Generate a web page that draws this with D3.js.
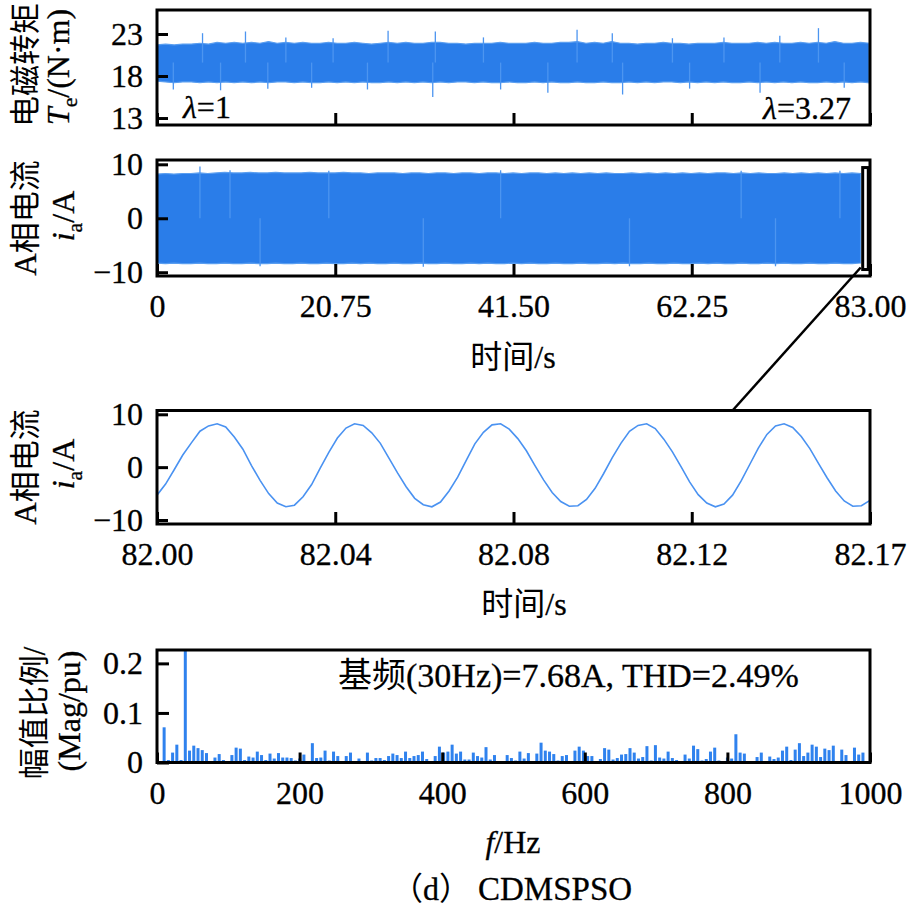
<!DOCTYPE html>
<html>
<head>
<meta charset="utf-8">
<script src="https://cdn.jsdelivr.net/npm/d3@7"></script>
<style>
  body { margin: 0; background: #fff; }
  svg text { font-family: "Liberation Serif", "Times New Roman", serif; fill: #000; }
  svg .lat { font-family: "Liberation Serif", "Times New Roman", serif; stroke: #000; stroke-width: 0.3px; }
  svg .cjk { font-family: "Noto Sans CJK SC", sans-serif; }
  svg .tick text { font-family: "Liberation Serif", "Times New Roman", serif; stroke: #000; stroke-width: 0.3px; }
</style>
</head>
<body>
<div id="chart"></div>
<script>

// Figure (d) CDMSPSO: torque, phase current, zoomed current and its spectrum

const width = 911;
const height = 911;
const plotL = 157, plotR = 870;
const blue = "#2a7de9";

// Torque Te band (envelope, one value per second)
const torqueEnd = 82.9;
const torqueUpper = [
  21.7, 21.8, 21.7, 21.8, 21.8, 21.9, 21.8, 22.0, 21.9, 22.0,
  21.9, 22.0, 21.9, 22.1, 21.9, 22.0, 21.9, 22.0, 21.9, 21.9,
  22.0, 21.9, 21.9, 22.0, 21.9, 21.8, 21.9, 22.0, 21.9, 22.0,
  21.9, 21.9, 22.0, 22.0, 21.9, 21.9, 21.8, 21.9, 21.9, 21.9,
  22.0, 21.9, 21.9, 21.9, 22.0, 21.9, 21.9, 22.0, 22.0, 22.1,
  21.9, 22.0, 21.9, 22.1, 21.9, 21.9, 21.8, 21.9, 21.9, 22.0,
  21.9, 21.9, 21.8, 21.9, 21.9, 21.9, 22.0, 21.9, 21.9, 21.9,
  22.0, 21.9, 22.0, 21.9, 21.9, 22.0, 21.9, 22.0, 21.9, 22.1,
  21.9, 21.9, 22.0, 21.9
];
const torqueLower = [
  17.4, 17.3, 17.2, 17.3, 17.3, 17.2, 17.3, 17.2, 17.3, 17.2,
  17.3, 17.2, 17.3, 17.2, 17.3, 17.3, 17.2, 17.3, 17.2, 17.2,
  17.3, 17.2, 17.3, 17.2, 17.3, 17.2, 17.2, 17.3, 17.2, 17.3,
  17.2, 17.3, 17.2, 17.3, 17.2, 17.3, 17.3, 17.2, 17.3, 17.2,
  17.2, 17.3, 17.2, 17.2, 17.3, 17.2, 17.3, 17.2, 17.2, 17.3,
  17.2, 17.2, 17.3, 17.2, 17.2, 17.3, 17.2, 17.3, 17.2, 17.3,
  17.3, 17.2, 17.3, 17.2, 17.3, 17.2, 17.3, 17.2, 17.2, 17.3,
  17.2, 17.3, 17.2, 17.3, 17.2, 17.3, 17.2, 17.2, 17.3, 17.2,
  17.3, 17.2, 17.3, 17.2
];
// [time s, value] spikes sticking out of the band
const torqueSpikes = [
  [5.3, 23.1], [10.3, 23.3], [15.0, 22.6], [20.5, 22.5], [26.9, 23.4], [32.4, 23.3],
  [38.0, 22.6], [48.9, 23.5], [53.0, 23.1], [60.0, 22.5], [66.0, 22.6], [72.5, 22.8],
  [77.0, 23.7], [1.9, 16.4], [7.4, 16.3], [12.9, 16.5], [18.0, 16.6], [24.5, 16.4],
  [32.1, 15.5], [40.0, 16.4], [45.5, 16.0], [54.2, 15.8], [62.0, 16.5], [70.2, 16.0],
  [80.0, 16.6]
];
const torqueTicks = [13, 18, 23];

// Phase current ia band
const currentEnd = 81.9;
const currentUpper = [
  8.2, 8.3, 8.2, 8.3, 8.3, 8.4, 8.3, 8.4, 8.5, 8.4,
  8.4, 8.5, 8.4, 8.4, 8.5, 8.4, 8.4, 8.4, 8.5, 8.4,
  8.4, 8.4, 8.5, 8.4, 8.4, 8.3, 8.4, 8.4, 8.4, 8.3,
  8.4, 8.4, 8.3, 8.4, 8.4, 8.3, 8.4, 8.4, 8.3, 8.4,
  8.4, 8.3, 8.4, 8.3, 8.4, 8.4, 8.3, 8.4, 8.3, 8.4,
  8.3, 8.4, 8.3, 8.4, 8.3, 8.3, 8.4, 8.3, 8.4, 8.3,
  8.4, 8.3, 8.4, 8.3, 8.4, 8.3, 8.4, 8.4, 8.3, 8.4,
  8.3, 8.4, 8.3, 8.3, 8.4, 8.3, 8.4, 8.3, 8.4, 8.3,
  8.4, 8.3, 8.4, 8.3
];
const currentLower = [
  -8.3, -8.4, -8.3, -8.4, -8.4, -8.3, -8.4, -8.4, -8.3, -8.4,
  -8.4, -8.3, -8.4, -8.4, -8.3, -8.4, -8.4, -8.3, -8.4, -8.4,
  -8.3, -8.4, -8.4, -8.3, -8.4, -8.3, -8.4, -8.4, -8.3, -8.4,
  -8.4, -8.3, -8.4, -8.4, -8.3, -8.4, -8.4, -8.3, -8.4, -8.3,
  -8.4, -8.4, -8.3, -8.4, -8.3, -8.4, -8.4, -8.3, -8.4, -8.4,
  -8.3, -8.4, -8.4, -8.3, -8.4, -8.3, -8.4, -8.4, -8.3, -8.4,
  -8.4, -8.3, -8.4, -8.4, -8.3, -8.4, -8.3, -8.4, -8.4, -8.3,
  -8.4, -8.4, -8.3, -8.4, -8.3, -8.4, -8.4, -8.3, -8.4, -8.4,
  -8.3, -8.4, -8.4, -8.3
];
const currentSpikes = [
  [5.0, 9.6], [8.5, 8.9], [20.0, 8.8], [40.0, 8.9], [68.0, 8.8], [79.5, 8.8],
  [12.0, -8.9], [31.0, -9.0], [55.0, -8.9], [72.0, -8.9]
];
const currentTicks = [-10, 0, 10];
const timeTicks = [0, 20.75, 41.5, 62.25, 83];

// Zoomed current 82.00 s .. 82.166 s, one sample every 2 ms
const zoomStart = 82, zoomStep = 0.002;
const zoomCurrent = [
  -5.3, -3.2, -0.5, 2.3, 4.6, 6.8, 7.8, 8.2, 7.6, 5.7,
  3.4, 0.3, -2.5, -5.0, -6.8, -7.5, -7.2, -5.6, -3.3, -0.2,
  2.8, 5.5, 7.4, 8.2, 7.9, 6.5, 4.5, 1.7, -1.1, -3.7,
  -5.9, -7.1, -7.5, -6.6, -4.5, -1.9, 1.3, 4.4, 6.6, 8.0,
  8.2, 7.2, 5.4, 3.1, 0.3, -2.4, -4.8, -6.5, -7.4, -7.3,
  -6.1, -4.0, -1.2, 1.8, 4.5, 6.8, 7.9, 8.2, 7.3, 5.3,
  2.9, 0.1, -2.8, -5.2, -6.8, -7.5, -7.0, -5.3, -2.6, 0.5,
  3.6, 6.2, 7.8, 8.2, 7.5, 5.8, 3.5, 0.7, -2.0, -4.5,
  -6.4, -7.4, -7.3, -6.3
];
const zoomTicks = [82, 82.0415, 82.083, 82.1245, 82.166];

// Spectrum bars (pu), bins starting at 10 Hz every 5.94 Hz
const freqStart = 10, freqStep = 5.94;
const harmonics = [
  0.071, 0.005, 0.020, 0.036, 0.005, 0.300, 0.024, 0.034, 0.029, 0.025,
  0.019, 0.001, 0.010, 0.017, 0.005, 0.001, 0.015, 0.030, 0.028, 0.005,
  0.012, 0.010, 0.022, 0.015, 0.005, 0.018, 0.008, 0.019, 0.010, 0.010,
  0.009, 0.004, 0.008, 0.016, 0.003, 0.039, 0.009, 0.010, 0.024, 0.004,
  0.022,
  0.013, 0.001, 0.013, 0.020, 0.002, 0.008, 0.003, 0.020, 0.004, 0.009,
  0.009, 0.005, 0.013, 0.018, 0.015, 0.009, 0.022, 0.009, 0.013, 0.015,
  0.022, 0.007, 0.000, 0.013, 0.032, 0.020, 0.022, 0.036, 0.018, 0.022,
  0.006, 0.006, 0.020, 0.013, 0.010, 0.031, 0.006, 0.015, 0.000, 0.000,
  0.015, 0.009,
  0.004, 0.022, 0.008, 0.019, 0.001, 0.018, 0.040, 0.024, 0.022, 0.017,
  0.004, 0.013, 0.015, 0.003, 0.024, 0.032, 0.024, 0.013, 0.013, 0.000,
  0.007, 0.029, 0.026, 0.006, 0.009, 0.016, 0.017, 0.029, 0.020, 0.008,
  0.011, 0.033, 0.004, 0.035, 0.010, 0.008, 0.022, 0.009, 0.005, 0.002,
  0.016, 0.008, 0.034,
  0.027, 0.004, 0.007, 0.022, 0.030, 0.004, 0.001, 0.010, 0.008, 0.057,
  0.020, 0.018, 0.000, 0.002, 0.011, 0.020, 0.002, 0.012, 0.007, 0.010,
  0.024, 0.032, 0.005, 0.026, 0.039, 0.013, 0.020, 0.036, 0.032, 0.011,
  0.028, 0.025, 0.034, 0.002, 0.026, 0.015, 0.000, 0.030, 0.016, 0.020
];
const freqTicks = [0, 200, 400, 600, 800, 1000];
const magTicks = [0, 0.1, 0.2];


const svg = d3.select("#chart")
  .append("svg")
  .attr("width", width)
  .attr("height", height)
  .attr("viewBox", [0, 0, width, height]);

svg.append("rect").attr("width", width).attr("height", height).attr("fill", "#fff");

// split a string into CJK / latin runs so each run gets its own font
const cjkRun = /[\u3000-\u9fff\uff00-\uffef]+|[^\u3000-\u9fff\uff00-\uffef]+/g;
function addRuns(txt, s, extra) {
  s.match(cjkRun).forEach(run => {
    const ts = txt.append("tspan").text(run)
      .attr("class", /[\u3000-\u9fff\uff00-\uffef]/.test(run) ? "cjk" : "lat");
    if (extra) extra(ts);
  });
}

// one panel = a pair of scales + a clip box
function makePanel(id, top, bottom, xDomain, yDomain) {
  const x = d3.scaleLinear().domain(xDomain).range([plotL, plotR]);
  const y = d3.scaleLinear().domain(yDomain).range([bottom, top]);
  svg.append("clipPath").attr("id", id)
    .append("rect")
    .attr("x", plotL).attr("y", top)
    .attr("width", plotR - plotL).attr("height", bottom - top);
  return {x, y, top, bottom, id};
}

function drawAxes(p, xTicks, xFmt, xLen, xPad, yTicks, yFmt, yLen) {
  svg.append("g")
    .attr("transform", `translate(0,${p.bottom})`)
    .call(d3.axisBottom(p.x).tickValues(xTicks).tickFormat(xFmt).tickSize(-xLen).tickPadding(xPad))
    .call(g => g.select(".domain").remove())
    .attr("font-size", 32)
    .call(g => g.selectAll(".tick line").attr("stroke-width", 3));

  svg.append("g")
    .attr("transform", `translate(${plotL},0)`)
    .call(d3.axisLeft(p.y).tickValues(yTicks).tickFormat(yFmt).tickSize(-yLen).tickPadding(14))
    .call(g => g.select(".domain").remove())
    .attr("font-size", 32)
    .call(g => g.selectAll(".tick line").attr("stroke-width", 3));

  svg.append("rect")
    .attr("x", plotL).attr("y", p.top)
    .attr("width", plotR - plotL).attr("height", p.bottom - p.top)
    .attr("fill", "none").attr("stroke", "#000").attr("stroke-width", 3);
}

// dense signal drawn as its envelope band
function drawBand(p, upper, lower, end, spikes, mid) {
  const t = d3.range(upper.length).map(i => i * end / (upper.length - 1));
  const area = d3.area()
    .x((d, i) => p.x(t[i]))
    .y0((d, i) => p.y(lower[i]))
    .y1(d => p.y(d));
  const g = svg.append("g").attr("clip-path", `url(#${p.id})`);
  g.append("path").datum(upper)
    .attr("d", area)
    .attr("fill", blue)
    .attr("stroke", "#5a9ef0").attr("stroke-width", 1.2);
  g.selectAll(".spike")
    .data(spikes)
    .enter()
    .append("line")
      .attr("class", "spike")
      .attr("x1", d => p.x(d[0])).attr("x2", d => p.x(d[0]))
      .attr("y1", p.y(mid)).attr("y2", d => p.y(d[1]))
      .attr("stroke", "#4c95f0").attr("stroke-width", 1.3);
}

// rotated axis title, parts = [text, style]
function vLabel(x, y, parts, size) {
  const txt = svg.append("text")
    .attr("transform", `translate(${x},${y}) rotate(-90)`)
    .attr("text-anchor", "middle")
    .attr("font-size", size);
  parts.forEach(([s, style]) => {
    addRuns(txt, s, ts => {
      ts.attr("stroke-width", 0.15);
      if (style === "i") ts.attr("font-style", "italic");
      if (style === "sub") ts.attr("font-size", size * 0.68).attr("dy", 8);
      if (style === "up") ts.attr("dy", -8);
    });
  });
}

function hText(x, y, s, size, anchor) {
  const txt = svg.append("text").attr("x", x).attr("y", y)
    .attr("font-size", size).attr("text-anchor", anchor || "start");
  addRuns(txt, s);
  return txt;
}

/*  Panel 1: torque  */
const p1 = makePanel("c1", 10, 125, [0, 83], [12.17, 25.86]);
drawBand(p1, torqueUpper, torqueLower, torqueEnd, torqueSpikes, 19.6);
drawAxes(p1, timeTicks, () => "", 12, 10, torqueTicks, d3.format("d"), 11);

svg.append("text").attr("x", 183).attr("y", 118).attr("font-size", 32)
  .call(t => {
    t.append("tspan").attr("class", "lat").attr("font-style", "italic").text("λ");
    t.append("tspan").attr("class", "lat").text("=1");
  });
svg.append("text").attr("x", 851).attr("y", 119).attr("font-size", 32).attr("text-anchor", "end")
  .call(t => {
    t.append("tspan").attr("class", "lat").attr("font-style", "italic").text("λ");
    t.append("tspan").attr("class", "lat").text("=3.27");
  });

vLabel(36, 65, [["电磁转矩", ""]], 31);
vLabel(69, 67, [["T", "i"], ["e", "sub"], ["/(N·m)", "up"]], 32);

/*  Panel 2: phase current over the whole run  */
const p2 = makePanel("c2", 160, 276, [0, 83], [-10.7, 10.8]);
drawBand(p2, currentUpper, currentLower, currentEnd, currentSpikes, 0);
drawAxes(p2, timeTicks, d => d === 0 ? "0" : d.toFixed(2), 12, 18, currentTicks, d3.format("d"), 11);

vLabel(36, 218, [["A相电流", ""]], 31);
vLabel(74, 216, [["i", "i"], ["a", "sub"], ["/A", "up"]], 32);
hText(513, 368, "时间/s", 32, "middle");

/*  Panel 3: zoom of the last window  */
const p3 = makePanel("c3", 410.5, 524, [82, 82.166], [-10.76, 10.72]);

// marker box on panel 2 and the leader line down to panel 3
const boxT = [82.15, 82.8], boxV = [9.4, -9.5];
svg.append("rect")
  .attr("x", p2.x(boxT[0])).attr("y", p2.y(boxV[0]))
  .attr("width", p2.x(boxT[1]) - p2.x(boxT[0]))
  .attr("height", p2.y(boxV[1]) - p2.y(boxV[0]))
  .attr("fill", "#fff").attr("stroke", "#000").attr("stroke-width", 3);
svg.append("line")
  .attr("x1", p2.x(boxT[0]) - 2).attr("y1", p2.y(boxV[1]) - 2)
  .attr("x2", p3.x(82.134)).attr("y2", p3.top)
  .attr("stroke", "#000").attr("stroke-width", 2.5);

const zoomLine = d3.line()
  .x((d, i) => p3.x(zoomStart + i * zoomStep))
  .y(d => p3.y(d));
svg.append("g").attr("clip-path", "url(#c3)")
  .append("path").datum(zoomCurrent)
  .attr("d", zoomLine)
  .attr("fill", "none").attr("stroke", "#4a92f1").attr("stroke-width", 1.6);
drawAxes(p3, zoomTicks, d3.format(".2f"), 12, 18, currentTicks, d3.format("d"), 11);

vLabel(36, 467, [["A相电流", ""]], 31);
vLabel(74, 464, [["i", "i"], ["a", "sub"], ["/A", "up"]], 32);
hText(524, 615, "时间/s", 32, "middle");

/*  Panel 4: spectrum  */
const p4 = makePanel("c4", 650, 762.5, [0, 1000], [0, 0.227]);
svg.append("g").attr("clip-path", "url(#c4)")
  .selectAll(".bar")
  .data(harmonics)
  .enter()
  .append("rect")
    .attr("class", "bar")
    .attr("x", (d, i) => p4.x(freqStart + i * freqStep) - 1.5)
    .attr("y", d => p4.y(d))
    .attr("width", 3)
    .attr("height", d => p4.y(0) - p4.y(d))
    .attr("fill", "#2f82ee");
drawAxes(p4, freqTicks, d3.format("d"), 10, 19, magTicks, d => String(d), 12);

hText(338, 687, "基频(30Hz)=7.68A, THD=2.49%", 34);

vLabel(45, 713, [["幅值比例/", ""]], 31);
vLabel(80, 711, [["(Mag/pu)", ""]], 32);

svg.append("text").attr("x", 513).attr("y", 853).attr("font-size", 32)
  .attr("text-anchor", "middle")
  .call(t => {
    t.append("tspan").attr("class", "lat").attr("font-style", "italic").text("f");
    t.append("tspan").attr("class", "lat").text("/Hz");
  });

hText(391, 900, "（d）", 32);
hText(478, 900, "CDMSPSO", 33);

</script>
</body>
</html>
